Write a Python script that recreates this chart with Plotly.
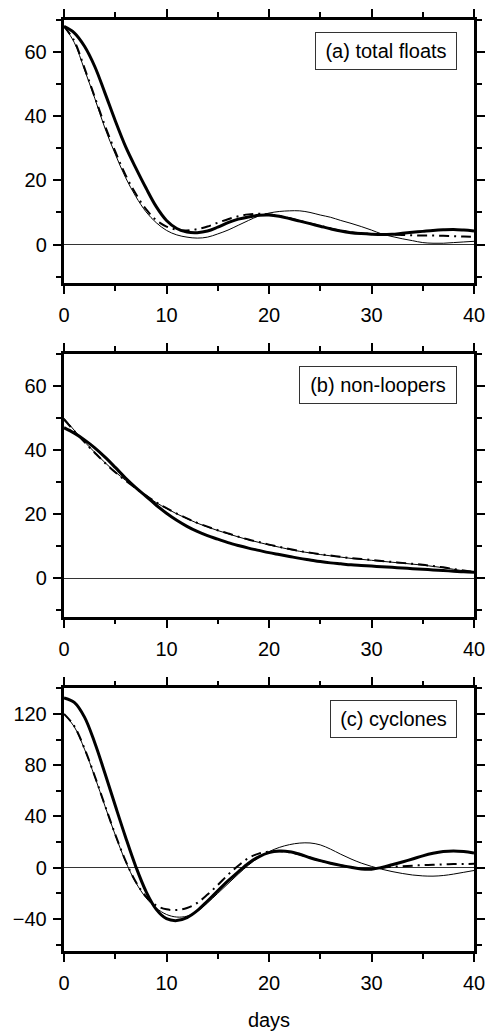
import plotly.graph_objects as go

days = list(range(0, 41))

# (a) total floats
a_thick = [68, 66, 61.8, 55.5, 47.2, 38.6, 30.6, 23.9, 17.6, 11.8, 7.5, 5.0, 3.9, 3.7, 4.2, 5.4, 6.8, 7.9, 8.6, 9.1,
           9.2, 8.8, 8.1, 7.3, 6.5, 5.7, 4.9, 4.2, 3.7, 3.4, 3.2, 3.1, 3.2, 3.5, 3.8, 4.1, 4.4, 4.6, 4.7, 4.5, 4.2]
a_thin = [68, 63, 54.5, 45.6, 36.2, 28.2, 20.9, 15.0, 10.2, 6.8, 4.4, 3.0, 2.3, 2.0, 2.3, 3.3, 4.5, 6.0, 7.5, 8.9,
          9.8, 10.3, 10.5, 10.5, 10.0, 9.2, 8.5, 7.5, 6.6, 5.6, 4.5, 3.3, 2.5, 1.8, 1.2, 0.6, 0.4, 0.4, 0.6, 0.8, 1.0]
a_dashdot = [68, 63.5, 55, 46, 37, 29, 21.7, 15.8, 11, 7.6, 5.6, 4.6, 4.4, 4.8, 5.6, 6.8, 7.9, 8.8, 9.4, 9.6,
             9.4, 8.9, 8.2, 7.4, 6.6, 5.8, 5.0, 4.3, 3.8, 3.5, 3.3, 3.2, 3.1, 3.0, 2.9, 2.8, 2.8, 2.7, 2.6, 2.5, 2.4]

# (b) non-loopers
b_thick = [47, 45.3, 43.2, 40.7, 37.8, 34.6, 31.3, 28.3, 25.6, 22.8, 20.3, 18.1, 16.2, 14.6, 13.3, 12.2, 11.1, 10.2, 9.4, 8.7,
           8.0, 7.4, 6.8, 6.2, 5.7, 5.2, 4.8, 4.5, 4.2, 4.0, 3.8, 3.6, 3.4, 3.2, 3.0, 2.8, 2.6, 2.4, 2.2, 2.0, 1.9]
b_thin = [50, 46.2, 42.6, 39.3, 36.1, 33.2, 30.6, 28.2, 25.8, 23.6, 21.8, 20.1, 18.6, 17.2, 16.0, 14.9, 13.9, 12.9, 12.0, 11.2,
          10.4, 9.7, 9.0, 8.4, 7.9, 7.4, 7.0, 6.6, 6.2, 5.9, 5.6, 5.3, 5.0, 4.7, 4.4, 4.1, 3.7, 3.3, 2.8, 2.3, 1.9]
b_dashdot = [49.6, 46.0, 42.5, 39.2, 36.0, 33.1, 30.5, 28.1, 25.8, 23.7, 21.9, 20.2, 18.7, 17.3, 16.1, 15.0, 14.0, 13.0, 12.1, 11.3,
             10.5, 9.8, 9.1, 8.5, 8.0, 7.5, 7.1, 6.7, 6.3, 6.0, 5.7, 5.4, 5.1, 4.8, 4.5, 4.2, 3.8, 3.4, 2.9, 2.4, 2.0]

# (c) cyclones
c_thick = [132.5, 129, 117.5, 97.5, 73.5, 48.5, 24, 1, -18.5, -32.5, -39.8, -41.3, -39, -33.5, -26, -18, -10.3, -3.2, 3.5, 8.5,
           11.8, 13, 12.5, 10.5, 7.8, 5.5, 3.5, 1.8, 0.3, -1, -1.2, 0.2, 2.3, 4.5, 6.8, 9.2, 11.2, 12.6, 13.1, 12.6, 11.5]
c_thin = [120, 110, 92.5, 71, 48, 25.5, 5, -11.5, -23.5, -31.5, -36.5, -38.5, -37.8, -34, -27.5, -20, -12.5, -5, 2, 8,
          12.5, 15.8, 18, 19.2, 19.3, 17.8, 14.5, 10.5, 6.8, 3.6, 1, -1.2, -3, -4.5, -5.7, -6.4, -6.6, -6.1, -5, -3.6, -2.2]
c_dashdot = [120, 110.5, 93, 71.5, 48.5, 26, 5.5, -11, -22.5, -29.5, -32.5, -33, -31.5, -27.5, -21, -13.5, -5.5, 1.5, 7.5, 11,
             12.5, 12.8, 12, 10.3, 7.8, 5.5, 3.5, 1.8, 0.3, -0.8, -0.8, 0, 0.7, 1.2, 1.6, 2.0, 2.3, 2.6, 2.8, 2.9, 3.0]

panel_labels = ["(a) total floats", "(b) non-loopers", "(c) cyclones"]
label_widths = [126, 142, 111]
x_ticks = [0, 10, 20, 30, 40]

FONT = "Liberation Sans, Arial, Helvetica, sans-serif"
FS = 20

fig = go.Figure()

panels = [(a_thin, a_dashdot, a_thick), (b_thin, b_dashdot, b_thick), (c_thin, c_dashdot, c_thick)]
for i, (thin, dd, thick) in enumerate(panels):
    xa = "x" if i == 0 else f"x{i+1}"
    ya = "y" if i == 0 else f"y{i+1}"
    fig.add_trace(go.Scatter(x=days, y=thin, mode="lines", xaxis=xa, yaxis=ya,
                             line=dict(color="black", width=1, shape="spline", smoothing=1.0)))
    fig.add_trace(go.Scatter(x=days, y=dd, mode="lines", xaxis=xa, yaxis=ya,
                             line=dict(color="black", width=2, dash="10px,5px,2px,5px", shape="spline", smoothing=1.0)))
    fig.add_trace(go.Scatter(x=days, y=thick, mode="lines", xaxis=xa, yaxis=ya,
                             line=dict(color="black", width=3, shape="spline", smoothing=1.0)))

domains = [[0.7175, 1.0], [0.3591, 0.6412], [0.0, 0.2822]]
yranges = [[-12, 70], [-12, 70], [-65, 140]]
ydticks = [20, 20, 40]
yminor = [10, 10, 20]

common_axis = dict(showline=True, linecolor="black", linewidth=2.5, mirror="allticks",
                   ticks="outside", ticklen=8.5, tickwidth=2, tickcolor="black",
                   showgrid=False, automargin=False,
                   tickfont=dict(family=FONT, size=FS, color="black"))

layout = dict(width=488, height=1031, plot_bgcolor="white", paper_bgcolor="white",
              showlegend=False, margin=dict(l=64, r=14, t=20, b=80),
              font=dict(family=FONT, size=FS, color="black"))

for i in range(3):
    xk = "xaxis" if i == 0 else f"xaxis{i+1}"
    yk = "yaxis" if i == 0 else f"yaxis{i+1}"
    xanchor = "y" if i == 0 else f"y{i+1}"
    yanchor = "x" if i == 0 else f"x{i+1}"
    layout[xk] = dict(common_axis, range=[0, 40], tickvals=x_ticks, anchor=xanchor, zeroline=False,
                      ticklabelstandoff=4,
                      minor=dict(dtick=5, tick0=0, ticks="outside", ticklen=5, tickwidth=1.5, tickcolor="black"))
    layout[yk] = dict(common_axis, range=yranges[i], dtick=ydticks[i], tick0=0, domain=domains[i], anchor=yanchor,
                      zeroline=True, zerolinecolor="#333333", zerolinewidth=1, ticklabelstandoff=2,
                      minor=dict(dtick=yminor[i], tick0=0, ticks="outside", ticklen=5, tickwidth=1.5, tickcolor="black"))

layout["xaxis3"]["title"] = dict(text="days", font=dict(family=FONT, size=FS, color="black"), standoff=28)

fig.update_layout(**layout)

for i in range(3):
    xr = "x domain" if i == 0 else f"x{i+1} domain"
    yr = "y domain" if i == 0 else f"y{i+1} domain"
    fig.add_annotation(text=panel_labels[i], xref=xr, yref=yr, x=1, y=1, xanchor="right", yanchor="top",
                       xshift=-17, yshift=-12, showarrow=False, width=label_widths[i], height=22,
                       bordercolor="#333333", borderwidth=1, borderpad=7, bgcolor="white",
                       font=dict(family=FONT, size=FS, color="black"))

fig.write_html("out.html")
